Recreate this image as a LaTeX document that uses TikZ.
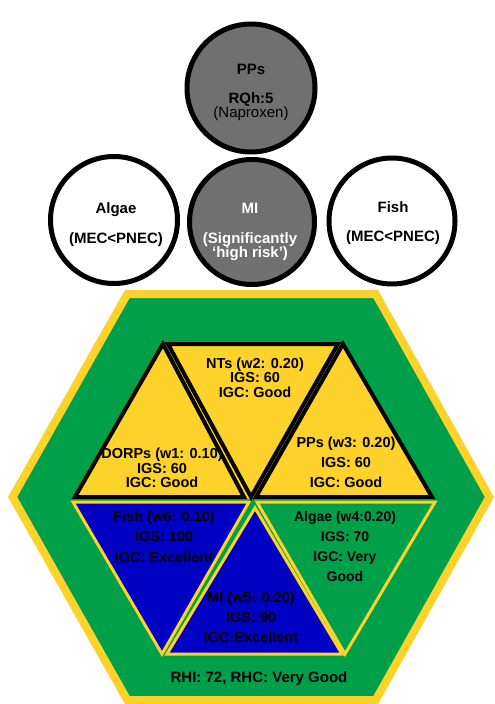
\documentclass[tikz,border=0pt]{standalone}
\usepackage{fontspec}
\setmainfont{Liberation Sans}
\usetikzlibrary{shapes.geometric}
\definecolor{hexgreen}{HTML}{00A04B}
\definecolor{hexyellow}{HTML}{FDD22A}
\definecolor{deepblue}{HTML}{0000C2}
\definecolor{riskgrey}{HTML}{707070}
\pgfdeclarelayer{front}
\pgfsetlayers{main,front}
\begin{document}
\begin{tikzpicture}[x=1pt,y=-1pt,
  disc/.style={circle, draw=black, line width=5pt, minimum size=#1, inner sep=0pt},
  capt/.style={font=\bfseries\fontsize{15}{15}\selectfont, inner sep=0pt, anchor=base},
  tritext/.style={font=\bfseries\fontsize{14.5}{#1}\selectfont, align=center, inner sep=0pt},
  tritext/.default=14.5,
  blackedge/.style={draw=black, line width=4pt, line join=miter},
  yellowedge/.style={draw=hexyellow, line width=3pt, line join=miter}
]
\useasboundingbox (0,0) rectangle (495,704);

% outer hexagon with yellow rim
\draw[fill=hexgreen, draw=hexyellow, line width=8pt]
  (12.6,497) -- (127.3,294) -- (375.7,294) -- (489.4,497)
  -- (375.7,700) -- (127.3,700) -- cycle;

% risk circles
\node[disc=125pt, fill=riskgrey] (mi) at (252,222) {};
\node[disc=128pt, fill=riskgrey] (pps) at (251,88) {};
\node[disc=127pt, fill=white] (algae) at (114,220) {};
\node[disc=126pt, fill=white] (fish) at (392,221) {};

\node[capt] (ppsname) at (251,74.4) {PPs};
\node[capt] (ppsrq) at (251,103.4) {RQh:5};
\node[capt, font=\mdseries\fontsize{15}{15}\selectfont] (ppsdrug) at (251,117.4) {(Naproxen)};

\node[capt] (algaename) at (116,213.4) {Algae};
\node[capt] (algaerisk) at (116,243.4) {(MEC<PNEC)};

\node[capt, text=white] (miname) at (250,213.4) {MI};
\node[capt, text=white] (mirisk1) at (250,243.4) {(Significantly};
\node[capt, text=white] (mirisk2) at (250,257.4) {‘high risk’)};

\node[capt] (fishname) at (393,212.4) {Fish};
\node[capt] (fishrisk) at (393,241.4) {(MEC<PNEC)};

% upper row of triangles on a common yellow band
\fill[hexyellow] (163,344) -- (343,344) -- (432,499) -- (75,499) -- cycle;
\begin{pgfonlayer}{front}
  \draw[blackedge] (168,344) -- (338,344) -- (251,497) -- cycle;
  \draw[blackedge] (163,344) -- (75,497) -- (244,497) -- cycle;
  \draw[blackedge] (343,344) -- (256,497) -- (432,497) -- cycle;
\end{pgfonlayer}

% lower row of triangles
\draw[yellowedge, fill=deepblue] (73,502) -- (249,502) -- (162,654) -- cycle;
\draw[yellowedge, fill=hexgreen] (257,502) -- (435,502) -- (345,654) -- cycle;
\draw[yellowedge, fill=deepblue] (255,508) -- (342,654) -- (167,654) -- cycle;

% indicator labels
\node[tritext] (ntslbl) at (255,377.5) {NTs (w2: 0.20)\\IGS: 60\\IGC: Good};
\node[tritext] (dorpslbl) at (162,468) {DORPs (w1: 0.10)\\IGS: 60\\IGC: Good};
\node[tritext=20] (ppslbl) at (346,462.5) {PPs (w3: 0.20)\\IGS: 60\\IGC: Good};
\node[tritext=20.5] (fishlbl) at (164,536.5) {Fish (w6: 0.10)\\IGS: 100\\IGC: Excellent};
\node[tritext=20] (milbl) at (251,617) {MI (w5: 0.20)\\IGS: 90\\IGC:Excellent};
\node[tritext=20, font=\bfseries\fontsize{14}{20}\selectfont] (algaelbl) at (345,546) {Algae (w4:0.20)\\IGS: 70\\IGC: Very\\Good};

\node[capt] (rhi) at (259,682.4) {RHI: 72, RHC: Very Good};
\end{tikzpicture}
\end{document}
